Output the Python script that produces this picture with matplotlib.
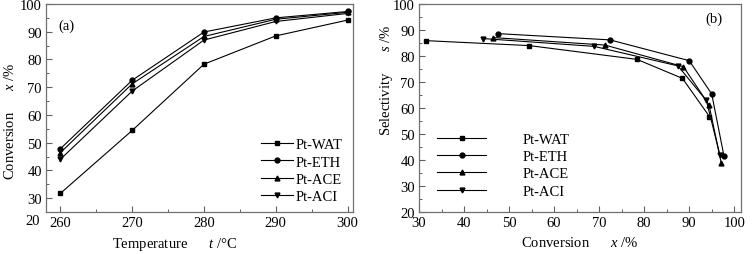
import numpy as np
import matplotlib
matplotlib.use("Agg")
import matplotlib.pyplot as plt

plt.rcParams['font.family'] = ['Liberation Serif', 'DejaVu Serif']
plt.rcParams['mathtext.fontset'] = 'custom'
plt.rcParams['mathtext.rm'] = 'Liberation Serif'
plt.rcParams['mathtext.it'] = 'Liberation Serif:italic'
plt.rcParams['font.size'] = 10.5

# (a) conversion vs temperature
temps = [260, 270, 280, 290, 300]
conv_wat = [31.7, 54.4, 78.3, 88.5, 94.2]
conv_eth = [47.8, 72.5, 89.9, 95.0, 97.3]
conv_ace = [46.4, 71.2, 88.3, 94.5, 97.0]
conv_aci = [44.0, 68.6, 87.0, 93.7, 96.6]

# (b) selectivity vs conversion
sel_wat_x = [31.6, 54.5, 78.4, 88.5, 94.5]
sel_wat_y = [85.9, 84.0, 78.7, 71.4, 56.7]
sel_eth_x = [47.6, 72.4, 90.0, 95.0, 97.7]
sel_eth_y = [88.6, 86.2, 78.2, 65.4, 41.7]
sel_ace_x = [46.4, 71.3, 88.7, 94.4, 97.1]
sel_ace_y = [87.1, 84.2, 75.9, 61.2, 38.9]
sel_aci_x = [44.3, 68.9, 87.5, 93.8, 96.8]
sel_aci_y = [86.7, 83.7, 76.2, 62.9, 42.0]

names = ["Pt-WAT", "Pt-ETH", "Pt-ACE", "Pt-ACI"]
markers = ["s", "o", "^", "v"]
fs = 10.5

fig = plt.figure(figsize=(7.56, 2.55), dpi=100)
ax1 = fig.add_axes([46/756, 1-213/255, 307/756, 208/255])
ax2 = fig.add_axes([419/756, 1-213/255, 322/756, 208/255])

def style(ax):
    for s in ax.spines.values():
        s.set_color('#707070')
        s.set_linewidth(0.9)
    ax.tick_params(which='both', direction='in', colors='#606060', labelcolor='black', labelsize=fs)
    ax.tick_params(which='major', length=4, width=0.8, pad=3)
    ax.tick_params(which='minor', length=2, width=0.7)

series_a = [conv_wat, conv_eth, conv_ace, conv_aci]
for name, m, y in zip(names, markers, series_a):
    ax1.plot(temps, y, color='black', lw=0.8, marker=m, ms=3.5, label=name)
ax1.set_xlim(258, 300.75)
ax1.set_ylim(25, 100)
ax1.set_xticks(temps)
ax1.set_xticks([265, 275, 285, 295], minor=True)
ax1.set_yticks(np.arange(30, 101, 10))
ax1.set_yticks(np.arange(35, 100, 10), minor=True)
ax1.text(-0.02, 22, "20", transform=ax1.get_yaxis_transform(), ha='right', va='center', fontsize=fs, clip_on=False)
style(ax1)
ax1.set_xlabel("Temperature      $t$ /°C", fontsize=fs)
ax1.xaxis.set_label_coords(0.42, -0.11)
ax1.set_ylabel("Conversion      $x$ /%", fontsize=fs)
ax1.yaxis.set_label_coords(-0.095, 0.44)
ax1.text(0.04, 0.9, "(a)", transform=ax1.transAxes, fontsize=fs, va='center')
ax1.legend(loc='upper left', bbox_to_anchor=(0.70, 0.355), frameon=False, fontsize=fs,
           handlelength=2.2, handletextpad=0.2, labelspacing=0.27, borderpad=0, borderaxespad=0)

series_b = [(sel_wat_x, sel_wat_y), (sel_eth_x, sel_eth_y), (sel_ace_x, sel_ace_y), (sel_aci_x, sel_aci_y)]
for name, m, (x, y) in zip(names, markers, series_b):
    ax2.plot(x, y, color='black', lw=0.8, marker=m, ms=3.5, label=name)
ax2.set_xlim(30, 101.5)
ax2.set_ylim(20, 100)
ax2.set_xticks(np.arange(30, 101, 10))
ax2.set_xticks(np.arange(35, 100, 10), minor=True)
ax2.set_yticks(np.arange(20, 101, 10))
ax2.set_yticks(np.arange(25, 100, 10), minor=True)
style(ax2)
ax2.set_xlabel("Conversion      $x$ /%", fontsize=fs)
ax2.xaxis.set_label_coords(0.5, -0.11)
ax2.set_ylabel("Selectivity      $s$ /%", fontsize=fs)
ax2.yaxis.set_label_coords(-0.075, 0.64)
ax2.text(0.89, 0.93, "(b)", transform=ax2.transAxes, fontsize=fs, va='center')
ax2.legend(loc='upper left', bbox_to_anchor=(0.055, 0.38), frameon=False, fontsize=fs,
           handlelength=3.4, handletextpad=2.5, labelspacing=0.27, borderpad=0, borderaxespad=0)

fig.savefig("out.png", dpi=100)
